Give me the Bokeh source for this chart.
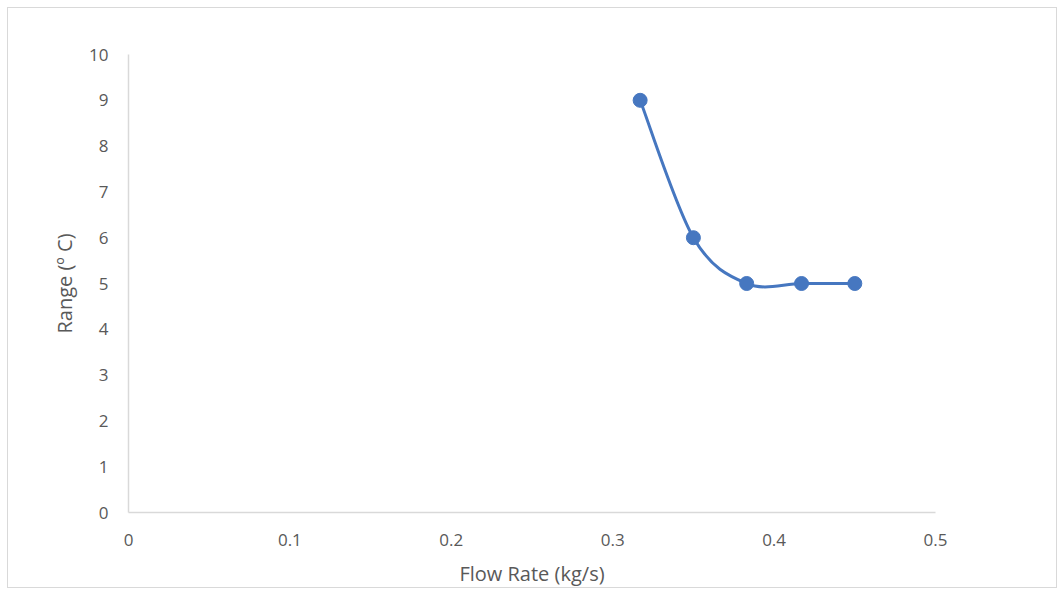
from bokeh.plotting import figure
from bokeh.embed import file_html
from bokeh.resources import INLINE
from bokeh.models import FixedTicker, Range1d

flow_rate = [0.317, 0.35, 0.383, 0.417, 0.45]
temp_range = [9, 6, 5, 5, 5]
x_ticks = [0, 0.1, 0.2, 0.3, 0.4, 0.5]
y_ticks = list(range(0, 11))

BLUE = "#4677c0"
GREY_TXT = "#595959"
AXIS = "#d9d9d9"
FONT = "Open Sans"

p = figure(width=1050, height=581, output_backend="svg", toolbar_location=None,
           x_range=Range1d(0, 0.5), y_range=Range1d(0, 10),
           min_border_left=120, min_border_right=123, min_border_top=46, min_border_bottom=76)
p.styles = {"border": "1px solid #d9d9d9", "margin-left": "7px", "margin-top": "7px"}
p.outline_line_color = None
p.xgrid.grid_line_color = None
p.ygrid.grid_line_color = None

# Smoothed line (Catmull-Rom style Bezier segments, like Excel's smoothed lines)
n = len(flow_rate)
x0s, y0s, x1s, y1s, cx0, cy0, cx1, cy1 = [], [], [], [], [], [], [], []
for i in range(n - 1):
    pm = (flow_rate[max(i - 1, 0)], temp_range[max(i - 1, 0)])
    pa = (flow_rate[i], temp_range[i])
    pb = (flow_rate[i + 1], temp_range[i + 1])
    pn = (flow_rate[min(i + 2, n - 1)], temp_range[min(i + 2, n - 1)])
    x0s.append(pa[0]); y0s.append(pa[1]); x1s.append(pb[0]); y1s.append(pb[1])
    cx0.append(pa[0] + (pb[0] - pm[0]) / 6); cy0.append(pa[1] + (pb[1] - pm[1]) / 6)
    cx1.append(pb[0] - (pn[0] - pa[0]) / 6); cy1.append(pb[1] - (pn[1] - pa[1]) / 6)
p.bezier(x0=x0s, y0=y0s, x1=x1s, y1=y1s, cx0=cx0, cy0=cy0, cx1=cx1, cy1=cy1,
         line_color=BLUE, line_width=3)
p.scatter(flow_rate, temp_range, size=14, fill_color=BLUE, line_color=BLUE)

for ax in (p.xaxis[0], p.yaxis[0]):
    ax.axis_line_color = AXIS
    ax.axis_line_width = 1.5
    ax.major_tick_line_color = None
    ax.minor_tick_line_color = None
    ax.major_tick_out = 0
    ax.minor_tick_out = 0
    ax.major_label_text_color = GREY_TXT
    ax.major_label_text_font = FONT
    ax.major_label_text_font_size = "17px"
    ax.axis_label_text_color = GREY_TXT
    ax.axis_label_text_font = FONT
    ax.axis_label_text_font_size = "20px"
    ax.axis_label_text_font_style = "normal"

p.xaxis.ticker = FixedTicker(ticks=x_ticks)
p.yaxis.ticker = FixedTicker(ticks=y_ticks)
p.xaxis.major_label_overrides = {0: "0"}
p.xaxis.axis_label = "Flow Rate (kg/s)"
p.yaxis.axis_label = "Range (º C)"
p.xaxis.major_label_standoff = 21
p.yaxis.major_label_standoff = 20
p.xaxis.axis_label_standoff = 11
p.yaxis.axis_label_standoff = 8

open("out.html", "w").write(file_html(p, INLINE))
